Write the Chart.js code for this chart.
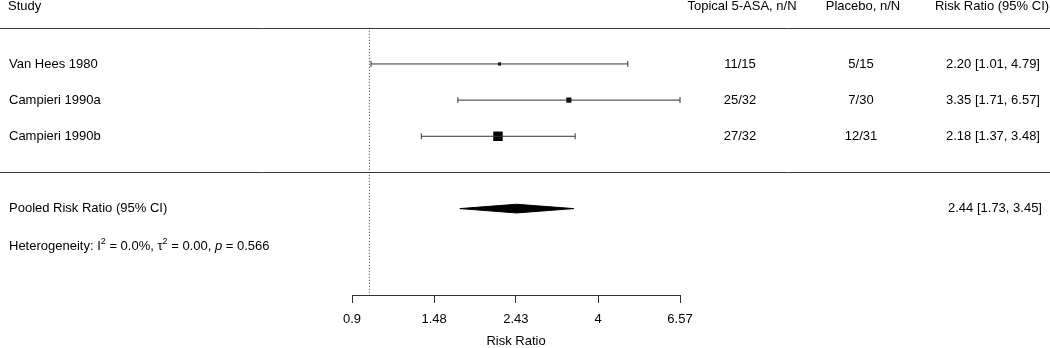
<!DOCTYPE html>
<html>
<head>
<meta charset="utf-8">
<script src="https://cdn.jsdelivr.net/npm/chart.js@4"></script>
<style>
html, body { margin: 0; padding: 0; background: #fff; }
canvas { display: block; }
</style>
</head>
<body>
<canvas id="myChart" width="1050" height="348"></canvas>
<script>
// study data
const studies = ['Van Hees 1980', 'Campieri 1990a', 'Campieri 1990b'];
const treated = ['11/15', '25/32', '27/32'];
const placebo = ['5/15', '7/30', '12/31'];
const rr = [2.20, 3.35, 2.18];
const lower = [1.01, 1.71, 1.37];
const upper = [4.79, 6.57, 3.48];
// pooled estimate
const pooledRR = 2.44;
const pooledLower = 1.73;
const pooledUpper = 3.45;
const hetI2 = '0.0%';
const hetTau2 = '0.00';
const hetP = '0.566';
const tickValues = [0.9, 1.48, 2.43, 4, 6.57];

const boxRadius = [2.2, 3.6, 6.7];
const rows = studies.map((s, i) => i + 1);
const pooledRow = 5;
const FONT = '"Liberation Sans", Arial, Helvetica, sans-serif';
const fmt = v => v.toFixed(2);

const datasets = [];
// line of no effect
datasets.push({
  data: [{x: 1, y: 0}, {x: 1, y: 7.389}],
  showLine: true, borderColor: '#333', borderWidth: 1, borderDash: [1, 2],
  pointRadius: 0, clip: false
});
// confidence intervals
studies.forEach((s, i) => {
  datasets.push({
    data: [{x: lower[i], y: rows[i]}, {x: upper[i], y: rows[i]}],
    showLine: true, borderColor: '#333', borderWidth: 1,
    pointStyle: 'line', pointRotation: 90, pointRadius: 3,
    pointBorderColor: '#333', pointBorderWidth: 1, clip: false
  });
});
// study boxes
datasets.push({
  data: rr.map((v, i) => ({x: v, y: rows[i]})),
  pointStyle: 'rect', pointRadius: boxRadius,
  pointBackgroundColor: '#000', pointBorderWidth: 0, clip: false
});
// pooled diamond
datasets.push({
  data: [
    {x: pooledLower, y: pooledRow},
    {x: pooledRR, y: pooledRow - 0.12},
    {x: pooledUpper, y: pooledRow},
    {x: pooledRR, y: pooledRow + 0.12},
    {x: pooledLower, y: pooledRow}
  ],
  showLine: true, fill: 'shape', tension: 0,
  backgroundColor: '#000', borderColor: '#000', borderWidth: 1,
  pointRadius: 0, clip: false
});

const textPlugin = {
  id: 'forestText',
  afterDraw(chart) {
    const ctx = chart.ctx, y = chart.scales.y;
    ctx.save();
    ctx.fillStyle = '#000';
    ctx.font = '13px ' + FONT;
    ctx.textBaseline = 'middle';

    // rules
    ctx.strokeStyle = '#333';
    ctx.lineWidth = 1;
    [0, 4].forEach(r => {
      const py = Math.round(y.getPixelForValue(r)) + 0.5;
      ctx.beginPath(); ctx.moveTo(0, py); ctx.lineTo(1050, py); ctx.stroke();
    });

    // header
    const hy = y.getPixelForValue(-0.58);
    ctx.textAlign = 'left';
    ctx.fillText('Study', 8, hy);
    ctx.textAlign = 'center';
    ctx.fillText('Topical 5-ASA, n/N', 742, hy);
    ctx.fillText('Placebo, n/N', 863, hy);
    ctx.fillText('Risk Ratio (95% CI)', 992, hy);

    // study rows
    studies.forEach((s, i) => {
      const py = y.getPixelForValue(rows[i]);
      ctx.textAlign = 'left';
      ctx.fillText(s, 9, py);
      ctx.textAlign = 'center';
      ctx.fillText(treated[i], 740, py);
      ctx.fillText(placebo[i], 861, py);
      ctx.fillText(fmt(rr[i]) + ' [' + fmt(lower[i]) + ', ' + fmt(upper[i]) + ']', 993, py);
    });

    // pooled row
    const py = y.getPixelForValue(pooledRow);
    ctx.textAlign = 'left';
    ctx.fillText('Pooled Risk Ratio (95% CI)', 9, py);
    ctx.textAlign = 'center';
    ctx.fillText(fmt(pooledRR) + ' [' + fmt(pooledLower) + ', ' + fmt(pooledUpper) + ']', 995, py);

    // heterogeneity line with superscripts
    const hy2 = y.getPixelForValue(6.05);
    ctx.textAlign = 'left';
    const parts = [
      ['Heterogeneity: I', 0, ''],
      ['2', 1, ''],
      [' = ' + hetI2 + ', \u03c4', 0, ''],
      ['2', 1, ''],
      [' = ' + hetTau2 + ', ', 0, ''],
      ['p', 0, 'italic '],
      [' = ' + hetP, 0, '']
    ];
    let x = 9;
    parts.forEach(([t, sup, style]) => {
      ctx.font = style + (sup ? '9px ' : '13px ') + FONT;
      ctx.fillText(t, x, sup ? hy2 - 5 : hy2);
      x += ctx.measureText(t).width;
    });
    ctx.restore();
  }
};

new Chart(document.getElementById('myChart').getContext('2d'), {
  type: 'scatter',
  data: {datasets: datasets},
  options: {
    responsive: false,
    animation: false,
    events: [],
    layout: {padding: {left: 352, right: 370, top: 0, bottom: 0}},
    plugins: {legend: {display: false}, tooltip: {enabled: false}},
    scales: {
      x: {
        type: 'logarithmic',
        min: 0.9,
        max: 6.57,
        afterBuildTicks: s => { s.ticks = tickValues.map(v => ({value: v})); },
        afterFit: s => { s.height = 53; },
        grid: {drawOnChartArea: false, drawTicks: true, tickLength: 8, color: '#333'},
        border: {display: true, color: '#333', width: 1},
        ticks: {
          color: '#000', font: {size: 13, family: FONT}, padding: 9,
          maxRotation: 0, autoSkip: false,
          callback: v => String(v)
        },
        title: {display: true, text: 'Risk Ratio', color: '#000',
          font: {size: 13, family: FONT, lineHeight: 1}, padding: 0}
      },
      y: {
        type: 'linear', reverse: true, min: -0.583, max: 7.389, display: false
      }
    }
  },
  plugins: [textPlugin]
});
</script>
</body>
</html>
